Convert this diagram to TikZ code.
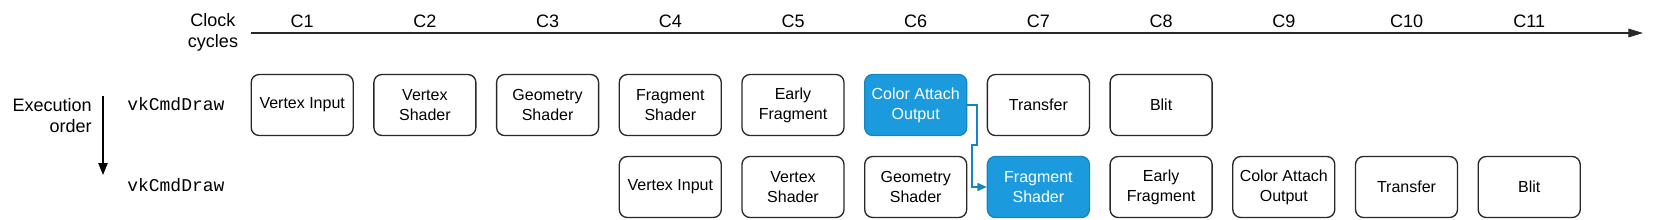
\documentclass[tikz,border=0pt]{standalone}
\usepackage{fontspec}
\setmainfont{Liberation Sans}
\setmonofont{Liberation Mono}
\usetikzlibrary{arrows.meta}
\definecolor{boxblue}{RGB}{27,155,222}
\definecolor{linegray}{RGB}{40,40,40}
\tikzset{
  stage/.style={draw=linegray, line width=1pt, rounded corners=6pt, fill=white,
    minimum width=76.5pt, minimum height=45.75pt, align=center,
    font=\fontsize{12}{15}\selectfont, inner sep=1pt, text=black},
  hot/.style={stage, fill=boxblue, draw=boxblue!85!black, text=white},
  lbl/.style={font=\fontsize{13.5}{15.75}\selectfont, align=center, inner sep=0pt},
  mono/.style={font=\ttfamily\fontsize{13.5}{15}\selectfont, inner sep=0pt, anchor=west},
  conn/.style={draw=boxblue!85!black, line width=1.2pt, -{Triangle[length=7pt,width=6pt]}}
}
\begin{document}
\begin{tikzpicture}[x=0.75pt,y=-0.75pt]
\useasboundingbox (0,0) rectangle (1669,219);
% clock header
\node[lbl] (clk) at (213,32) {Clock\\cycles};
\coordinate (tlstart) at (251,33);
\coordinate (tlend) at (1643,33);
\draw[linegray, line width=0.8pt, -{Triangle[length=11pt,width=6.5pt]}] (tlstart) -- (tlend);
\foreach \i in {1,...,11}{
  \node[lbl] (c\i) at ({302.2+122.7*(\i-1)},21) {C\i};
}
% execution order
\node[lbl, align=right, anchor=east] (exec) at (92,116) {Execution\\order};
\coordinate (eoA) at (103,96);
\coordinate (eoB) at (103,175);
\draw[black, line width=1pt, -{Triangle[length=9pt,width=7pt]}] (eoA) -- (eoB);
\node[mono] (cmd1) at (127,104) {vkCmdDraw};
\node[mono] (cmd2) at (127,185) {vkCmdDraw};
% row 1
\node[stage] (a1) at (302.2,105) {Vertex Input};
\node[stage] (a2) at (424.9,105) {Vertex\\Shader};
\node[stage] (a3) at (547.6,105) {Geometry\\Shader};
\node[stage] (a4) at (670.3,105) {Fragment\\Shader};
\node[stage] (a5) at (793.0,105) {Early\\Fragment};
\node[hot]   (a6) at (915.7,105) {Color Attach\\Output};
\node[stage] (a7) at (1038.4,105) {Transfer};
\node[stage] (a8) at (1161.1,105) {Blit};
% row 2
\node[stage] (b4) at (670.3,187) {Vertex Input};
\node[stage] (b5) at (793.0,187) {Vertex\\Shader};
\node[stage] (b6) at (915.7,187) {Geometry\\Shader};
\node[hot]   (b7) at (1038.4,187) {Fragment\\Shader};
\node[stage] (b8) at (1161.1,187) {Early\\Fragment};
\node[stage] (b9) at (1283.8,187) {Color Attach\\Output};
\node[stage] (b10) at (1406.5,187) {Transfer};
\node[stage] (b11) at (1529.2,187) {Blit};
% dependency connector
\draw[conn] (a6.east) -- (977,105) -- (977,145) -- (972,145) -- (972,187) -- (b7.west);
\end{tikzpicture}
\end{document}
